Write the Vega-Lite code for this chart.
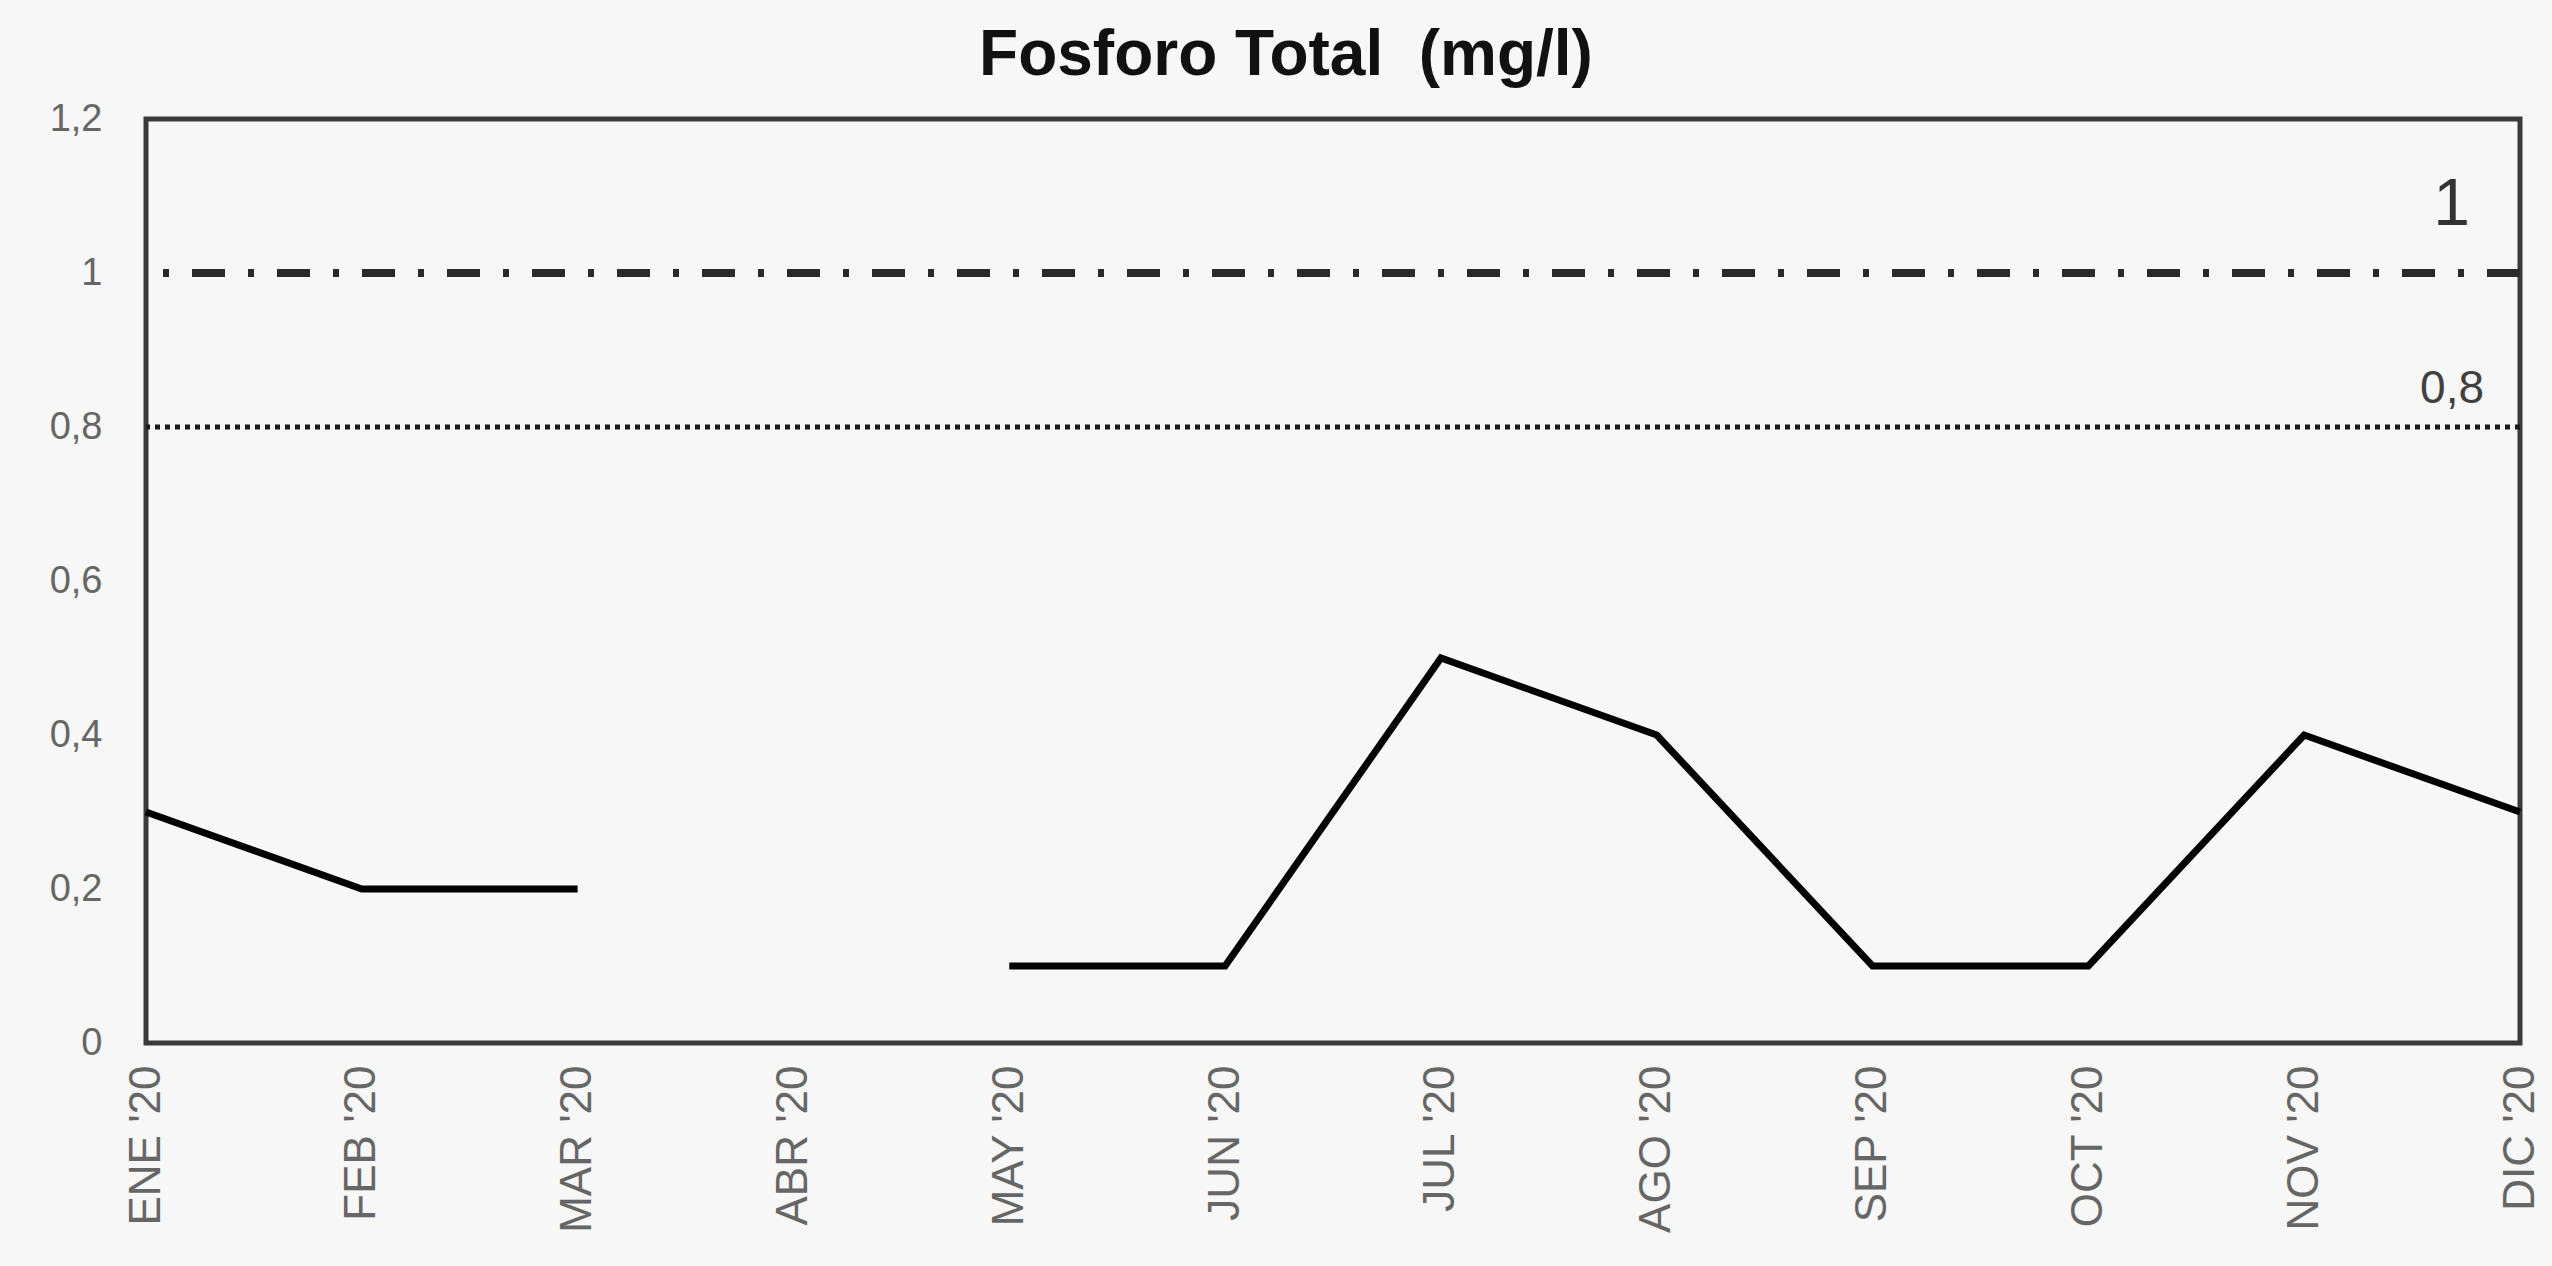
{
  "$schema": "https://vega.github.io/schema/vega-lite/v6.json",
  "width": 2374,
  "height": 924,
  "autosize": "none",
  "padding": {"left": 146, "top": 119, "right": 32, "bottom": 223},
  "background": "#f7f7f7",
  "title": {
    "text": "Fosforo Total\u00a0\u00a0(mg/l)",
    "font": "Liberation Sans",
    "fontSize": 64,
    "fontWeight": "bold",
    "color": "#111111",
    "anchor": "middle",
    "dx": -47,
    "offset": 12
  },
  "config": {
    "view": {"stroke": "#3a3a3a", "strokeWidth": 5},
    "axis": {"grid": false, "domain": false, "ticks": false, "labelFont": "Liberation Sans", "labelColor": "#666666", "labelFontSize": 38, "title": null}
  },
  "datasets": {
    "series": [
      {"mes": "ENE '20", "valor": 0.3},
      {"mes": "FEB '20", "valor": 0.2},
      {"mes": "MAR '20", "valor": 0.2},
      {"mes": "ABR '20", "valor": null},
      {"mes": "MAY '20", "valor": 0.1},
      {"mes": "JUN '20", "valor": 0.1},
      {"mes": "JUL '20", "valor": 0.5},
      {"mes": "AGO '20", "valor": 0.4},
      {"mes": "SEP '20", "valor": 0.1},
      {"mes": "OCT '20", "valor": 0.1},
      {"mes": "NOV '20", "valor": 0.4},
      {"mes": "DIC '20", "valor": 0.3}
    ],
    "limites": [
      {"limite": 1, "etiqueta": "1", "tipo": "a"},
      {"limite": 0.8, "etiqueta": "0,8", "tipo": "b"}
    ]
  },
  "layer": [
    {
      "data": {"name": "limites"},
      "transform": [{"filter": "datum.tipo == 'a'"}],
      "mark": {"type": "rule", "color": "#2a2a2a", "strokeWidth": 8, "strokeDash": [33, 23, 6, 23]},
      "encoding": {"y": {"field": "limite", "type": "quantitative", "scale": {"domain": [0, 1.2]}}}
    },
    {
      "data": {"name": "limites"},
      "transform": [{"filter": "datum.tipo == 'b'"}],
      "mark": {"type": "rule", "color": "#1a1a1a", "strokeWidth": 5, "strokeDash": [5, 5]},
      "encoding": {"y": {"field": "limite", "type": "quantitative"}}
    },
    {
      "data": {"name": "limites"},
      "transform": [{"filter": "datum.tipo == 'a'"}],
      "mark": {"type": "text", "font": "Liberation Sans", "fontSize": 66, "color": "#333333", "align": "right", "baseline": "bottom", "dy": -34, "x": {"expr": "width - 50"}},
      "encoding": {"y": {"field": "limite", "type": "quantitative"}, "text": {"field": "etiqueta"}}
    },
    {
      "data": {"name": "limites"},
      "transform": [{"filter": "datum.tipo == 'b'"}],
      "mark": {"type": "text", "font": "Liberation Sans", "fontSize": 46, "color": "#404040", "align": "right", "baseline": "bottom", "dy": -14, "x": {"expr": "width - 36"}},
      "encoding": {"y": {"field": "limite", "type": "quantitative"}, "text": {"field": "etiqueta"}}
    },
    {
      "data": {"name": "series"},
      "mark": {"type": "line", "color": "#000000", "strokeWidth": 7, "invalid": "break-paths-show-domains"},
      "encoding": {
        "x": {
          "field": "mes", "type": "ordinal", "sort": null,
          "scale": {"type": "point", "padding": 0, "domain": ["ENE '20", "FEB '20", "MAR '20", "ABR '20", "MAY '20", "JUN '20", "JUL '20", "AGO '20", "SEP '20", "OCT '20", "NOV '20", "DIC '20"]},
          "axis": {"labelAngle": -90, "labelPadding": 22, "labelFontSize": 44}
        },
        "y": {
          "field": "valor", "type": "quantitative",
          "scale": {"domain": [0, 1.2]},
          "axis": {"values": [0, 0.2, 0.4, 0.6, 0.8, 1, 1.2], "labelPadding": 44, "labelExpr": "replace(format(datum.value, '~g'), '.', ',')"}
        }
      }
    }
  ]
}
